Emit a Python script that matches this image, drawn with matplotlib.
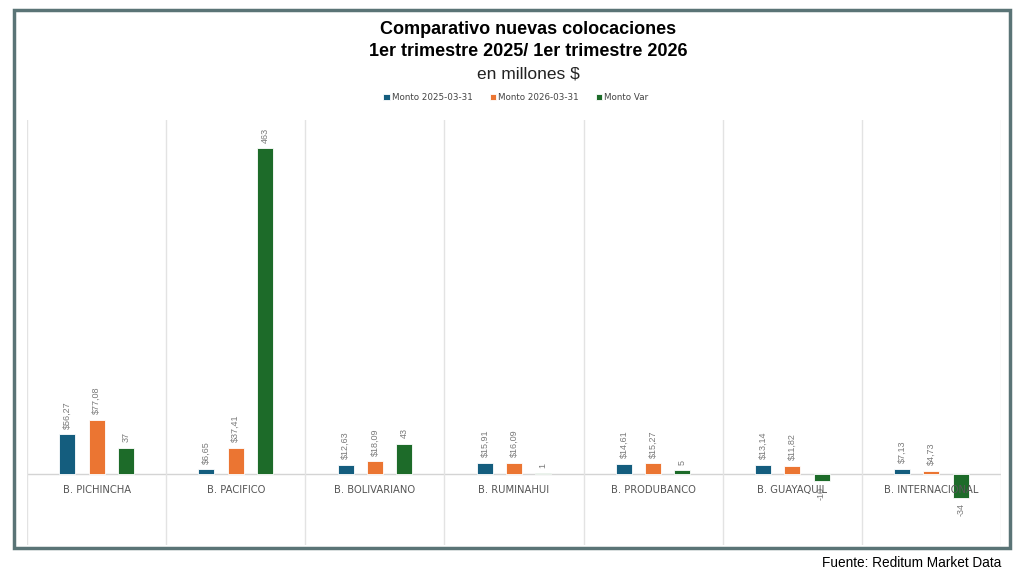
import matplotlib.pyplot as plt
from matplotlib.patches import Rectangle
import numpy as np

bancos = ['B. PICHINCHA', 'B. PACIFICO', 'B. BOLIVARIANO', 'B. RUMINAHUI',
          'B. PRODUBANCO', 'B. GUAYAQUIL', 'B. INTERNACIONAL']
monto_2025 = [56.27, 6.65, 12.63, 15.91, 14.61, 13.14, 7.13]
monto_2026 = [77.08, 37.41, 18.09, 16.09, 15.27, 11.82, 4.73]
monto_var = [37, 463, 43, 1, 5, -10, -34]

series = ['Monto 2025-03-31', 'Monto 2026-03-31', 'Monto Var']
colores = ['#145d7e', '#eb7532', '#1d6b29']

fig = plt.figure(figsize=(10.25, 5.75), dpi=100)
W, H = 1025, 575

# marco exterior
fig.patches.append(Rectangle((14 / W, 1 - 548 / H), (1010 - 14) / W, (548 - 10) / H,
                             transform=fig.transFigure, fill=False,
                             edgecolor='#5a7476', linewidth=2.5))

ax = fig.add_axes([27 / W, 1 - 545 / H, (1001 - 27) / W, 425 / H])
x = np.arange(len(bancos))
ancho = 0.115
desp = 0.21

datos = [monto_2025, monto_2026, monto_var]
for i, (vals, col, nom) in enumerate(zip(datos, colores, series)):
    pos = x + (i - 1) * desp
    ax.bar(pos, vals, width=ancho, color=col, edgecolor='white', linewidth=0.6, label=nom)
    for p, v in zip(pos, vals):
        if i < 2:
            txt = '$' + f'{v:.2f}'.replace('.', ',')
        else:
            txt = f'{v:d}'
        ax.annotate(txt, (p, v), xytext=(0, 4 if v >= 0 else -4), textcoords='offset points',
                    rotation=90, ha='center', va='bottom' if v >= 0 else 'top',
                    fontsize=6.5, color='#7a7a7a', family='Liberation Sans')

ax.set_xlim(-0.5, len(bancos) - 0.5)
ax.set_ylim(-101, 503)
ax.axhline(0, color='#d4d4d4', linewidth=1, zorder=0)
for b in np.arange(-0.5, len(bancos), 1):
    ax.axvline(b, color='#e3e3e3', linewidth=1, zorder=0)

for xi, nom in zip(x, bancos):
    ax.annotate(nom, (xi, 0), xytext=(0, -8), textcoords='offset points',
                ha='center', va='top', fontsize=7.2, color='#555555',
                family='DejaVu Sans')

ax.set_xticks([])
ax.set_yticks([])
for s in ax.spines.values():
    s.set_visible(False)

cx = 528 / W
fig.text(cx, 1 - 30 / H, 'Comparativo nuevas colocaciones', ha='center', va='center',
         fontsize=13, fontweight='bold', family='Liberation Sans')
fig.text(cx, 1 - 52 / H, '1er trimestre 2025/ 1er trimestre 2026', ha='center', va='center',
         fontsize=13, fontweight='bold', family='Liberation Sans')
fig.text(cx, 1 - 74 / H, 'en millones $', ha='center', va='center',
         fontsize=12.5, color='#222222', family='Liberation Sans')

fig.legend(loc='center', bbox_to_anchor=(516 / W, 1 - 98 / H), ncol=3, frameon=False,
           fontsize=6.3, handlelength=0.7, handleheight=0.7, handletextpad=0.3,
           columnspacing=1.9, labelcolor='#444444')

fig.text(1001 / W, 1 - 563 / H, 'Fuente: Reditum Market Data', ha='right', va='center',
         fontsize=9.8, family='Liberation Sans')

fig.savefig('out.png', dpi=100)
